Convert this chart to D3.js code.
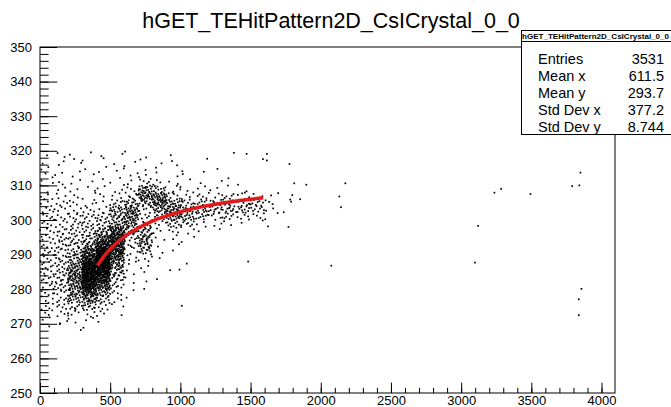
<!DOCTYPE html>
<html>
<head>
<meta charset="utf-8">
<script src="https://cdn.jsdelivr.net/npm/d3@7"></script>
<style>
  body { margin: 0; background: #fff; }
  text { font-family: "Liberation Sans", Arial, Helvetica, sans-serif; fill: #000; }
</style>
</head>
<body>
<svg id="chart" width="671" height="407"></svg>
<script>
// TH2 bin contents (scatter drawing): cells are 100 wide in x, 2 wide in y
var cellLowX = [0, 100, 200, 300, 400, 500, 600, 700, 800, 900, 1000, 1100, 1200, 1300, 1400, 1500, 1600, 1700];
var cellLowY = [318, 316, 314, 312, 310, 308, 306, 304, 302, 300, 298, 296, 294, 292, 290, 288, 286, 284, 282, 280, 278, 276, 274, 272, 270, 268];
var cellCounts = [
  [1,2,1,1,1, 1,1,1,0,1,0, 0,0,1,0,0,0,0],
  [1,1,2,1,1, 1,1,1,1,1,0, 1,0,0,0,0,0,0],
  [2,1,1,1,1, 2,1,1,1,1,1, 0,1,0,0,0,0,0],
  [2,2,1,1,1, 1,2,2,1,1,1, 1,0,1,0,0,0,0],
  [2,2,2,1,1, 2,2,5,3,2,1, 1,1,0,0,0,0,0],
  [2,2,2,2,2, 2,3,20,10,3,2, 2,2,1,0,0,0,0],
  [3,3,2,2,2, 3,6,26,24,7,4, 4,4,5,4,4,2,0],
  [4,4,3,3,3, 7,14,14,28,16,9, 9,10,10,10,8,3,1],
  [4,4,4,4,4, 14,24,6,16,24,14, 12,11,11,11,8,3,1],
  [4,5,6,7,8, 16,24,5,9,20,14, 9,7,6,5,4,1,0],
  [4,5,6,7,10, 16,20,7,5,10,8, 3,2,2,1,1,1,0],
  [5,6,7,9,16, 34,16,14,3,4,3, 1,1,0,0,0,0,0],
  [5,6,8,12,28, 48,10,18,2,2,1, 0,0,0,0,0,0,0],
  [5,7,10,18,50, 52,6,18,1,1,1, 0,0,0,0,0,0,0],
  [5,7,12,30,68, 42,4,12,1,1,0, 0,0,0,0,0,0,0],
  [5,8,16,46,80, 32,3,4,1,0,0, 0,0,0,0,0,0,0],
  [6,8,20,64,80, 22,2,2,0,0,1, 0,0,0,0,0,0,0],
  [6,9,25,74,68, 15,2,1,0,1,0, 0,0,0,0,0,0,0],
  [6,9,27,74,50, 10,1,1,1,0,0, 0,0,0,0,0,0,0],
  [5,8,24,60,34, 7,1,1,0,0,0, 0,0,0,0,0,0,0],
  [4,7,19,40,20, 4,1,0,0,0,0, 0,0,0,0,0,0,0],
  [4,6,14,24,11, 3,1,0,0,0,0, 0,0,0,0,0,0,0],
  [4,5,8,12,5, 2,0,0,0,0,0, 0,0,0,0,0,0,0],
  [3,4,4,4,3, 1,0,0,0,0,0, 0,0,0,0,0,0,0],
  [2,2,2,2,1, 0,0,0,0,0,0, 0,0,0,0,0,0,0],
  [1,1,1,1,0, 0,0,0,0,0,0, 0,0,0,0,0,0,0]
];

// isolated hits away from the main band
var strayX = [1472, 1616, 1588, 1616, 1777, 1411, 1471, 1811, 1897, 1797, 1853, 1789, 1770, 1483, 2075, 2175, 2132, 2144,
              3850, 3791, 3842, 3237, 3285, 3494, 3121, 3099, 3857, 3838, 3838, 1010, 927];
var strayY = [319.1, 319.1, 317.6, 317.2, 316.2, 310.2, 308.3, 310.6, 310.2, 307.2, 306.0, 305.3, 298.0, 288.0, 286.8, 310.6, 306.8, 303.7,
              313.7, 309.8, 310.0, 307.9, 309.0, 307.5, 298.3, 287.7, 280.1, 277.1, 272.5, 275.2, 285.5];

// fitted curve
var fitX = [410, 450, 500, 550, 600, 700, 800, 900, 1000, 1100, 1200, 1300, 1400, 1500, 1590];
var fitY = [286.8, 289.2, 291.6, 293.5, 295.2, 297.7, 299.7, 301.2, 302.4, 303.4, 304.2, 304.9, 305.5, 306.0, 306.4];

var statNames = ["Entries", "Mean x", "Mean y", "Std Dev x", "Std Dev y"];
var statValues = ["3531", "611.5", "293.7", "377.2", "8.744"];

var histName = "hGET_TEHitPattern2D_CsICrystal_0_0";

var frame = { left: 40, right: 615, top: 47, bottom: 393 };

var svg = d3.select("#chart");

var x = d3.scaleLinear().domain([0, 4096]).range([frame.left, frame.right]);
var y = d3.scaleLinear().domain([250, 350]).range([frame.bottom, frame.top]);

// title
svg.append("text")
  .attr("x", 331)
  .attr("y", 28)
  .attr("text-anchor", "middle")
  .attr("font-size", "21.5px")
  .text(histName);

// spread each bin's entries over its cell, as the SCAT option does;
// a running Halton sequence keeps neighbouring cells from lining up
function halton(i, base) {
  var f = 1, r = 0;
  while (i > 0) {
    f = f / base;
    r += f * (i % base);
    i = Math.floor(i / base);
  }
  return r;
}
var dots = [];
var seq = 1;
cellCounts.forEach(function(row, r) {
  row.forEach(function(n, c) {
    for (var k = 0; k < n; k++, seq++) {
      dots.push({
        x: cellLowX[c] + 100 * halton(seq, 2),
        y: cellLowY[r] + 2 * halton(seq, 3)
      });
    }
  });
});
strayX.forEach(function(v, i) { dots.push({ x: v, y: strayY[i] }); });

var dotSize = 1.7;
svg.append("g")
  .selectAll("rect")
  .data(dots)
  .enter()
  .append("rect")
  .attr("x", d => x(d.x) - dotSize / 2)
  .attr("y", d => y(d.y) - dotSize / 2)
  .attr("width", dotSize)
  .attr("height", dotSize)
  .attr("fill", "#000");

// fit function
var fitLine = d3.line()
  .x(d => x(d[0]))
  .y(d => y(d[1]))
  .curve(d3.curveMonotoneX);

svg.append("path")
  .datum(fitX.map((v, i) => [v, fitY[i]]))
  .attr("d", fitLine)
  .attr("fill", "none")
  .attr("stroke", "#e01a1a")
  .attr("stroke-width", 3.5);

// axes with ROOT-style inward ticks
var xMajor = d3.range(0, 4001, 500);
var xMinor = d3.range(0, 4097, 100);
var yMajor = d3.range(250, 351, 10);
var yMinor = d3.range(250, 351, 2);

var xTickLen = 0.03 * (frame.bottom - frame.top);
var yTickLen = 0.03 * (frame.right - frame.left);

svg.append("g")
  .attr("transform", `translate(0, ${frame.bottom})`)
  .call(d3.axisBottom(x).tickValues(xMinor).tickSize(-xTickLen / 2).tickFormat(""))
  .call(g => g.select(".domain").remove());

var xAxis = svg.append("g")
  .attr("transform", `translate(0, ${frame.bottom})`)
  .call(d3.axisBottom(x).tickValues(xMajor).tickSize(-xTickLen).tickPadding(3).tickFormat(d3.format("d")));
xAxis.select(".domain").remove();
xAxis.selectAll("text").attr("font-size", "13px").attr("fill", "#000");

svg.append("g")
  .attr("transform", `translate(${frame.left}, 0)`)
  .call(d3.axisLeft(y).tickValues(yMinor).tickSize(-yTickLen / 2).tickFormat(""))
  .call(g => g.select(".domain").remove());

var yAxis = svg.append("g")
  .attr("transform", `translate(${frame.left}, 0)`)
  .call(d3.axisLeft(y).tickValues(yMajor).tickSize(-yTickLen).tickPadding(8).tickFormat(d3.format("d")));
yAxis.select(".domain").remove();
yAxis.selectAll("text").attr("font-size", "13px").attr("fill", "#000");

svg.selectAll(".tick line").attr("stroke", "#000");

// frame
svg.append("rect")
  .attr("x", frame.left)
  .attr("y", frame.top)
  .attr("width", frame.right - frame.left)
  .attr("height", frame.bottom - frame.top)
  .attr("fill", "none")
  .attr("stroke", "#000")
  .attr("stroke-width", 1);

// stats box
var stats = svg.append("g");
stats.append("rect")
  .attr("x", 521.5)
  .attr("y", 30.5)
  .attr("width", 152)
  .attr("height", 104)
  .attr("fill", "#fff")
  .attr("stroke", "#000");
stats.append("line")
  .attr("x1", 521.5).attr("x2", 673)
  .attr("y1", 41.5).attr("y2", 41.5)
  .attr("stroke", "#000");
stats.append("text")
  .attr("x", 522)
  .attr("y", 39)
  .attr("font-size", "8px")
  .attr("font-weight", "bold")
  .attr("textLength", 147)
  .attr("lengthAdjust", "spacingAndGlyphs")
  .text(histName);

statNames.forEach(function(name, i) {
  var base = 63.5 + i * 17;
  stats.append("text")
    .attr("x", 538)
    .attr("y", base)
    .attr("font-size", "14.5px")
    .text(name);
  stats.append("text")
    .attr("x", 664)
    .attr("y", base)
    .attr("text-anchor", "end")
    .attr("font-size", "14.5px")
    .text(statValues[i]);
});
</script>
</body>
</html>
